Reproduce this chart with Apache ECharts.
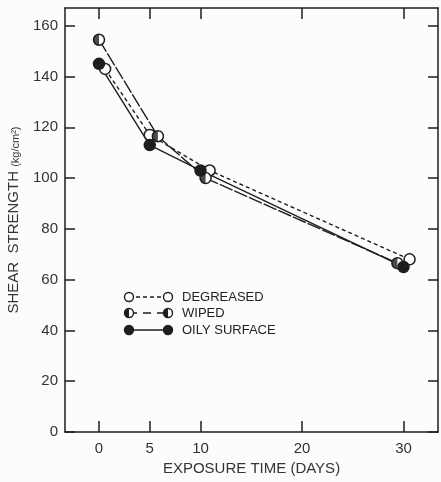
<!DOCTYPE html>
<html>
<head>
<meta charset="utf-8">
<script src="https://cdn.jsdelivr.net/npm/echarts@6/dist/echarts.min.js"></script>
<style>
    html,body{margin:0;padding:0;background:#fcfcfc;}
    #chart{width:441px;height:482px;}
</style>
</head>
<body>
<div id="chart"></div>
<script>
// 数据
let degreased_x = [0.6, 5, 10.9, 30.6]
let degreased_y = [143, 117, 103, 68]
let wiped_x = [0, 5.8, 10.5, 29.4]
let wiped_y = [154.5, 116.5, 100, 66.5]
let oily_x = [0, 5, 10, 30]
let oily_y = [145, 113, 103, 65]
let x_ticks = [0, 5, 10, 20, 30]
let y_ticks = [0, 20, 40, 60, 80, 100, 120, 140, 160]
let legend_names = ['DEGREASED', 'WIPED', 'OILY SURFACE']

let ink = '#1e1e1e'
let font = 'Liberation Sans'

function pairs(xs, ys){
    return xs.map((x, i) => [x, ys[i]])
}

// 坐标轴公共样式
function axis_common(show_label){
    return {
        axisLine: {show: true, onZero: false, lineStyle: {color: ink, width: 1.5}},
        axisTick: {show: true, inside: true, length: 11, lineStyle: {color: ink, width: 1.5}},
        splitLine: {show: false},
        axisLabel: {show: true, color: show_label ? '#333' : 'rgba(0,0,0,0)', fontSize: 15, fontFamily: font}
    }
}

let x_bottom = {
    type: 'value', position: 'bottom', min: -3.35, max: 33.4,
    name: 'EXPOSURE TIME (DAYS)', nameLocation: 'middle', nameGap: 28,
    nameTextStyle: {color: '#333', fontSize: 15, fontFamily: font},
    ...axis_common(true)
}
x_bottom.axisTick.customValues = x_ticks
x_bottom.axisLabel.customValues = x_ticks
x_bottom.axisLabel.margin = 9

let x_top = {type: 'value', position: 'top', min: -3.35, max: 33.4, ...axis_common(false)}
x_top.axisTick.customValues = x_ticks
x_top.axisLabel.customValues = x_ticks

let y_left = {
    type: 'value', position: 'left', min: 0, max: 167,
    name: '{a|SHEAR  STRENGTH }{b|(kg/cm²)}', nameLocation: 'middle', nameGap: 44,
    nameTextStyle: {
        color: '#333', fontFamily: font,
        rich: {
            a: {fontSize: 15, fontFamily: font, color: '#333'},
            b: {fontSize: 11, fontFamily: font, color: '#333', verticalAlign: 'bottom'}
        }
    },
    ...axis_common(true)
}
y_left.axisTick.customValues = y_ticks
y_left.axisTick.length = 10
y_left.axisLabel.customValues = y_ticks
y_left.axisLabel.margin = 7

let y_right = {type: 'value', position: 'right', min: 0, max: 167, ...axis_common(false)}
y_right.axisTick.customValues = y_ticks
y_right.axisTick.length = 10
y_right.axisLabel.customValues = y_ticks

let chart = echarts.init(document.getElementById('chart'))

// 半实心符号: 先画空心圆, 再叠加左半实心
let sym = 11
chart.setOption({
    backgroundColor: '#fcfcfc',
    animation: false,
    grid: {left: 65, right: 3, top: 8, bottom: 50, containLabel: false, outerBoundsMode: 'none'},
    xAxis: [x_bottom, x_top],
    yAxis: [y_left, y_right],
    series: [
        {
            name: legend_names[0], type: 'line', data: pairs(degreased_x, degreased_y),
            symbol: 'circle', symbolSize: sym,
            lineStyle: {color: ink, width: 1.4, type: [4, 3]},
            itemStyle: {color: '#fff', borderColor: ink, borderWidth: 1.5}, z: 3
        },
        {
            name: legend_names[1], type: 'line', data: pairs(wiped_x, wiped_y),
            symbol: 'circle', symbolSize: sym,
            lineStyle: {color: ink, width: 1.4, type: [14, 2]},
            itemStyle: {color: '#fff', borderColor: ink, borderWidth: 1.5}, z: 3
        },
        {
            name: legend_names[1] + '_half', type: 'scatter', data: pairs(wiped_x, wiped_y),
            symbol: 'path://M10,0 A10,10 0 0,0 10,20 Z', symbolSize: [sym / 2, sym], symbolOffset: [-sym / 4, 0],
            itemStyle: {color: ink}, z: 4
        },
        {
            name: legend_names[2], type: 'line', data: pairs(oily_x, oily_y),
            symbol: 'circle', symbolSize: sym,
            lineStyle: {color: ink, width: 1.4},
            itemStyle: {color: ink, borderColor: ink, borderWidth: 1.5}, z: 3
        }
    ],
    // 图例 (手绘)
    graphic: [
        {type: 'line', shape: {x1: 129, y1: 297, x2: 168, y2: 297}, style: {stroke: ink, lineWidth: 1.3, lineDash: [4, 3]}},
        {type: 'circle', shape: {cx: 129, cy: 297, r: 4.5}, style: {fill: '#fff', stroke: ink, lineWidth: 1.4}},
        {type: 'circle', shape: {cx: 168, cy: 297, r: 4.5}, style: {fill: '#fff', stroke: ink, lineWidth: 1.4}},
        {type: 'text', x: 182, y: 297, style: {text: legend_names[0], fill: '#222', font: '13px ' + font, verticalAlign: 'middle'}},

        {type: 'line', shape: {x1: 129, y1: 313, x2: 168, y2: 313}, style: {stroke: ink, lineWidth: 1.3, lineDash: [8, 6]}},
        {type: 'circle', shape: {cx: 129, cy: 313, r: 4.5}, style: {fill: '#fff', stroke: ink, lineWidth: 1.4}},
        {type: 'circle', shape: {cx: 168, cy: 313, r: 4.5}, style: {fill: '#fff', stroke: ink, lineWidth: 1.4}},
        {type: 'sector', shape: {cx: 129, cy: 313, r: 4.5, startAngle: Math.PI / 2, endAngle: Math.PI * 1.5}, style: {fill: ink}},
        {type: 'sector', shape: {cx: 168, cy: 313, r: 4.5, startAngle: Math.PI / 2, endAngle: Math.PI * 1.5}, style: {fill: ink}},
        {type: 'text', x: 182, y: 313, style: {text: legend_names[1], fill: '#222', font: '13px ' + font, verticalAlign: 'middle'}},

        {type: 'line', shape: {x1: 129, y1: 330, x2: 168, y2: 330}, style: {stroke: ink, lineWidth: 1.4}},
        {type: 'circle', shape: {cx: 129, cy: 330, r: 4.5}, style: {fill: ink, stroke: ink, lineWidth: 1.4}},
        {type: 'circle', shape: {cx: 168, cy: 330, r: 4.5}, style: {fill: ink, stroke: ink, lineWidth: 1.4}},
        {type: 'text', x: 182, y: 330, style: {text: legend_names[2], fill: '#222', font: '13px ' + font, verticalAlign: 'middle'}}
    ]
})
</script>
</body>
</html>
